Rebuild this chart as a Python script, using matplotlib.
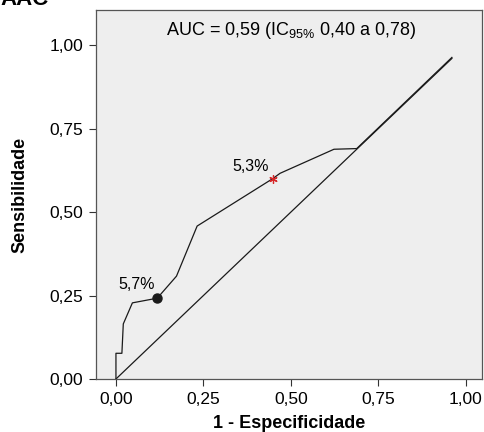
import matplotlib
matplotlib.use("Agg")
import matplotlib.pyplot as plt

plt.rcParams['font.family'] = ['Liberation Sans', 'DejaVu Sans']
plt.rcParams['mathtext.fontset'] = 'custom'
plt.rcParams['mathtext.rm'] = 'Liberation Sans'
plt.rcParams['mathtext.it'] = 'Liberation Sans'
plt.rcParams['mathtext.bf'] = 'Liberation Sans:bold'

# ROC curve data (1 - specificity, sensitivity)
fpr = [0.0, 0.0, 0.017, 0.021, 0.047, 0.118, 0.173, 0.232, 0.448, 0.469, 0.623, 0.688, 0.96]
tpr = [0.0, 0.077, 0.077, 0.165, 0.228, 0.242, 0.308, 0.458, 0.600, 0.616, 0.688, 0.690, 0.963]
ref_x = [0.0, 0.96]
ref_y = [0.0, 0.96]
cut1 = (0.118, 0.242)
cut1_label = "5,7%"
cut2 = (0.448, 0.600)
cut2_label = "5,3%"
ticks = [0.0, 0.25, 0.5, 0.75, 1.0]
tick_labels = ["0,00", "0,25", "0,50", "0,75", "1,00"]
auc_text = "AUC = 0,59 (IC$_{95\\%}$ 0,40 a 0,78)"

fig = plt.figure(figsize=(4.85, 4.32), dpi=100)
ax = fig.add_axes([96/485, 1-379/432, (482-96)/485, (379-10)/432])
ax.set_facecolor('#eeeeee')

ax.plot(ref_x, ref_y, color='#1a1a1a', lw=0.9)
ax.plot(fpr, tpr, color='#1a1a1a', lw=0.9)
ax.plot([cut1[0]], [cut1[1]], 'o', color='#1a1a1a', ms=6.5)
ax.plot([cut2[0]], [cut2[1]], marker=(6, 2, 0), color='#d62728', ms=6, mew=0.9, ls='none')
ax.text(0.059, 0.283, cut1_label, fontsize=11.5, ha='center', va='center')
ax.text(0.386, 0.636, cut2_label, fontsize=11.5, ha='center', va='center')
ax.text(0.499, 1.043, auc_text, fontsize=13, ha='center', va='center')

ax.set_xlim(-0.057, 1.046)
ax.set_ylim(0.0, 1.105)
ax.set_xticks(ticks)
ax.set_xticklabels(tick_labels)
ax.set_yticks(ticks)
ax.set_yticklabels(tick_labels)
ax.tick_params(labelsize=12.5, length=5, width=0.8, color='#333333', pad=4)
for s in ax.spines.values():
    s.set_color('#555555')
    s.set_linewidth(0.9)

ax.set_xlabel("1 - Especificidade", fontsize=13, fontweight='bold', labelpad=6)
ax.set_ylabel("Sensibilidade", fontsize=13, fontweight='bold', labelpad=15)

fig.text(0.0, 1 - 5/432, "AAC", fontsize=16, fontweight='bold', ha='left', va='baseline')

fig.savefig("out.png", dpi=100)
